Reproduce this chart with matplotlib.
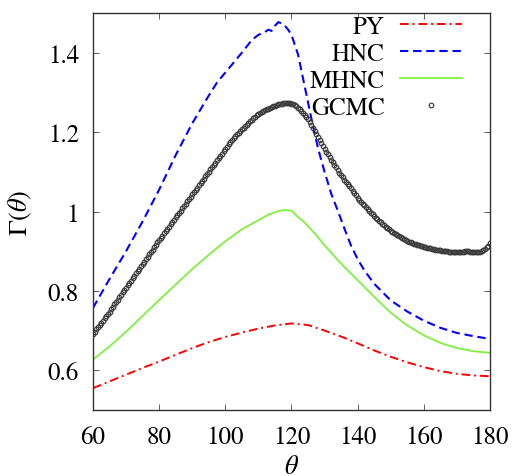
import matplotlib
matplotlib.use("Agg")
import matplotlib.pyplot as plt
import numpy as np
from matplotlib.ticker import FuncFormatter

plt.rcParams['font.family'] = ['STIXGeneral', 'Liberation Serif', 'DejaVu Serif']
plt.rcParams['mathtext.fontset'] = 'stix'

# PY closure
py_theta = [60, 65, 70, 75, 80, 85, 90, 95, 100, 105, 110, 115, 120, 125, 130,
            135, 140, 145, 150, 155, 160, 165, 170, 175, 180]
py_gamma = [0.555, 0.572, 0.589, 0.606, 0.622, 0.639, 0.656, 0.671, 0.684, 0.695,
            0.705, 0.713, 0.718, 0.714, 0.700, 0.685, 0.668, 0.650, 0.634, 0.620,
            0.608, 0.598, 0.591, 0.587, 0.585]

# HNC closure
hnc_theta = [60, 65, 70, 75, 80, 85, 90, 95, 97.5, 100, 105, 108, 110, 112, 113, 114,
             115, 116, 117, 118, 119, 120, 122, 124, 126, 128, 130, 132, 134, 136,
             138, 140, 142, 145, 150, 155, 160, 165, 170, 175, 180]
hnc_gamma = [0.757, 0.830, 0.900, 0.975, 1.055, 1.142, 1.222, 1.292, 1.325, 1.350, 1.400,
             1.432, 1.445, 1.452, 1.458, 1.455, 1.468, 1.477, 1.474, 1.468, 1.458,
             1.445, 1.395, 1.315, 1.235, 1.160, 1.100, 1.045, 1.002, 0.957, 0.914,
             0.880, 0.852, 0.818, 0.776, 0.748, 0.725, 0.707, 0.694, 0.686, 0.679]

# MHNC closure
mhnc_theta = [60, 65, 70, 75, 80, 85, 90, 95, 100, 105, 110, 113, 116, 118, 120,
              122, 124, 127, 130, 133, 136, 140, 145, 150, 155, 160, 165, 170, 175, 180]
mhnc_gamma = [0.627, 0.660, 0.697, 0.737, 0.777, 0.816, 0.855, 0.891, 0.925, 0.955,
              0.978, 0.992, 1.001, 1.004, 1.002, 0.986, 0.972, 0.945, 0.915, 0.887,
              0.860, 0.827, 0.785, 0.745, 0.713, 0.688, 0.669, 0.656, 0.648, 0.644]

# GCMC simulation, every 0.5 degree from 60 to 180
gcmc_theta = np.arange(60, 180.5, 0.5)
gcmc_gamma = [
    0.692, 0.697, 0.703, 0.708, 0.714, 0.720, 0.725, 0.731, 0.736, 0.742,
    0.748, 0.754, 0.760, 0.766, 0.772, 0.778, 0.784, 0.790, 0.796, 0.802,
    0.808, 0.814, 0.820, 0.826, 0.832, 0.838, 0.844, 0.850, 0.856, 0.862,
    0.868, 0.874, 0.880, 0.886, 0.892, 0.898, 0.904, 0.910, 0.916, 0.922,
    0.928, 0.934, 0.939, 0.945, 0.951, 0.957, 0.962, 0.968, 0.974, 0.979,
    0.985, 0.991, 0.997, 1.002, 1.008, 1.014, 1.020, 1.026, 1.031, 1.037,
    1.043, 1.049, 1.054, 1.060, 1.066, 1.071, 1.077, 1.083, 1.089, 1.094,
    1.100, 1.106, 1.112, 1.118, 1.123, 1.129, 1.135, 1.141, 1.146, 1.152,
    1.158, 1.163, 1.169, 1.174, 1.179, 1.184, 1.189, 1.194, 1.198, 1.203,
    1.207, 1.211, 1.215, 1.219, 1.223, 1.227, 1.231, 1.235, 1.238, 1.242,
    1.245, 1.248, 1.250, 1.253, 1.255, 1.257, 1.259, 1.261, 1.263, 1.265,
    1.267, 1.268, 1.270, 1.271, 1.272, 1.273, 1.274, 1.274, 1.274, 1.273,
    1.272, 1.270, 1.268, 1.265, 1.261, 1.257, 1.253, 1.248, 1.243, 1.238,
    1.232, 1.225, 1.218, 1.211, 1.203, 1.196, 1.188, 1.180, 1.173, 1.165,
    1.158, 1.151, 1.145, 1.138, 1.131, 1.125, 1.118, 1.111, 1.105, 1.098,
    1.092, 1.086, 1.080, 1.075, 1.069, 1.063, 1.058, 1.052, 1.046, 1.041,
    1.035, 1.030, 1.025, 1.020, 1.016, 1.011, 1.006, 1.002, 0.997, 0.993,
    0.988, 0.984, 0.980, 0.977, 0.973, 0.969, 0.965, 0.962, 0.958, 0.955,
    0.951, 0.948, 0.945, 0.943, 0.940, 0.938, 0.935, 0.933, 0.930, 0.928,
    0.926, 0.924, 0.922, 0.921, 0.919, 0.918, 0.916, 0.915, 0.913, 0.912,
    0.911, 0.910, 0.909, 0.908, 0.907, 0.906, 0.905, 0.904, 0.903, 0.903,
    0.902, 0.901, 0.901, 0.900, 0.900, 0.899, 0.899, 0.899, 0.898, 0.898,
    0.898, 0.897, 0.897, 0.897, 0.898, 0.900, 0.901, 0.900, 0.899, 0.899,
    0.899, 0.898, 0.898, 0.898, 0.899, 0.901, 0.903, 0.906, 0.910, 0.914,
    0.920]

fig = plt.figure(figsize=(5.12, 4.77), dpi=100)
ax = fig.add_axes([0.1816, 0.1384, 0.7754, 0.8322])

ax.plot(py_theta, py_gamma, color='#ff0000', lw=1.4, ls=(0, (4.5, 2, 1, 2)), label='PY')
ax.plot(hnc_theta, hnc_gamma, color='#0000ff', lw=1.5, ls=(0, (4, 2.3)), label='HNC')
ax.plot(mhnc_theta, mhnc_gamma, color='#80f040', lw=1.3, label='MHNC')
ax.plot(gcmc_theta, gcmc_gamma, ls='none', marker='o', ms=3.3, mfc='none',
        mec='#3a3a3a', mew=0.85, label='GCMC')

ax.set_xlim(60, 180)
ax.set_ylim(0.5, 1.5)
ax.set_xticks([60, 80, 100, 120, 140, 160, 180])
ax.set_yticks([0.6, 0.8, 1.0, 1.2, 1.4])
ax.yaxis.set_major_formatter(FuncFormatter(lambda v, p: '%g' % v))
ax.tick_params(direction='in', top=True, right=True, length=4.5, width=0.6,
               labelsize=18, color='#444444')
ax.tick_params(axis='x', pad=11)
ax.tick_params(axis='y', pad=10)
for s in ax.spines.values():
    s.set_linewidth(1.0)
    s.set_color('#333333')

ax.set_xlabel(r'$\theta$', fontsize=19, labelpad=4)
ax.set_ylabel(r'$\Gamma(\theta)$', fontsize=19, labelpad=10)

leg = ax.legend(loc='upper right', bbox_to_anchor=(0.93, 0.995), fontsize=18,
                frameon=False, markerfirst=False, handlelength=2.5,
                handletextpad=0.6, labelspacing=0.12, borderaxespad=0.0,
                borderpad=0.0)

fig.savefig('out.png', dpi=100)
